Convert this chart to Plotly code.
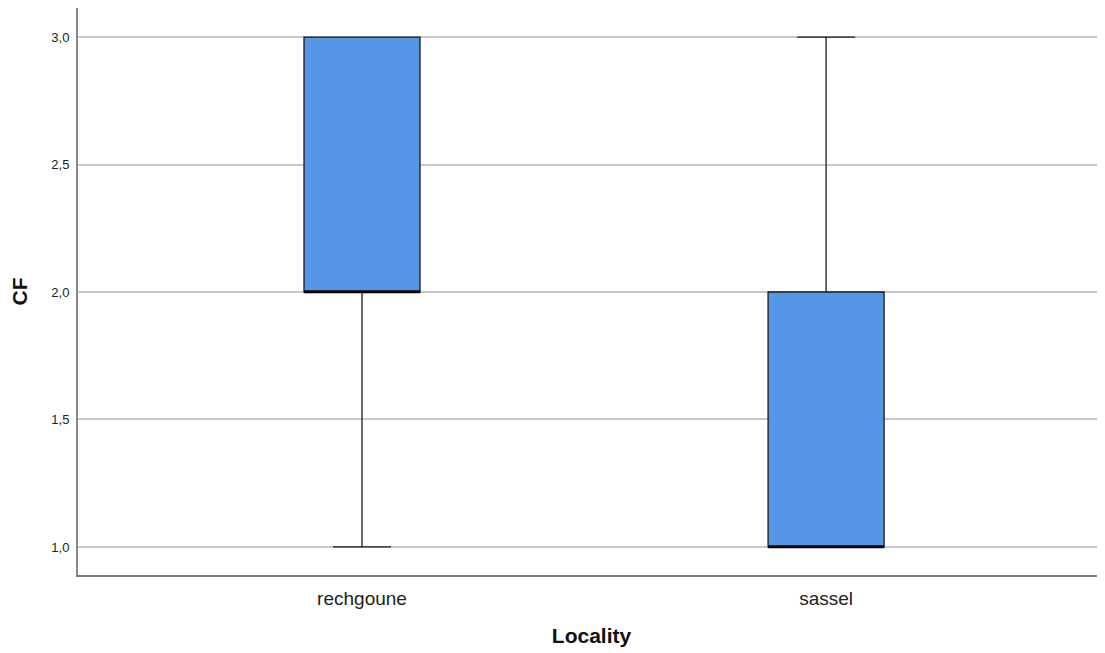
import plotly.graph_objects as go

categories = ["rechgoune", "sassel"]
lower = [1.0, 1.0]
q1 = [2.0, 1.0]
median = [2.0, 1.0]
q3 = [3.0, 2.0]
upper = [3.0, 3.0]
y_ticks = [1.0, 1.5, 2.0, 2.5, 3.0]

fig = go.Figure()
fig.add_trace(go.Box(
    x=categories, q1=q1, median=median, q3=q3,
    lowerfence=lower, upperfence=upper,
    fillcolor="#5596E6", line=dict(color="#1a1a1a", width=1.3),
    width=0.25, whiskerwidth=0.5, boxpoints=False, showlegend=False,
    hoverinfo="skip",
))
# thick median lines
for i, c in enumerate(categories):
    fig.add_trace(go.Scatter(
        x=[i - 0.125, i + 0.125], y=[median[i], median[i]],
        mode="lines", line=dict(color="#000000", width=2.5),
        showlegend=False, hoverinfo="skip", xaxis="x2",
    ))

fig.update_layout(
    width=1097, height=645,
    margin=dict(l=70, r=0, t=0, b=78),
    plot_bgcolor="white", paper_bgcolor="white",
    separators=",.",
    font=dict(family="Liberation Sans, Arial, sans-serif", color="#222"),
    xaxis=dict(
        range=[-0.612, 1.601], showgrid=False, zeroline=False,
        showline=True, linecolor="#777", linewidth=2,
        ticks="", tickfont=dict(size=19, color="#222"), ticklabelstandoff=5,
        title=dict(text="<b>Locality</b>", font=dict(size=21, color="#111"), standoff=21),
    ),
    xaxis2=dict(range=[-0.612, 1.601], overlaying="x", visible=False),
    yaxis=dict(
        range=[0.89, 3.114], tickvals=y_ticks, tickformat=".1f",
        showgrid=True, gridcolor="#c8c8c8", gridwidth=1.5,
        zeroline=False, showline=True, linecolor="#888", linewidth=2,
        ticks="", tickfont=dict(size=13, color="#222"), ticklabelstandoff=4,
        title=dict(text="<b>CF</b>", font=dict(size=21, color="#111"), standoff=18),
    ),
)
fig.write_html("out.html")
